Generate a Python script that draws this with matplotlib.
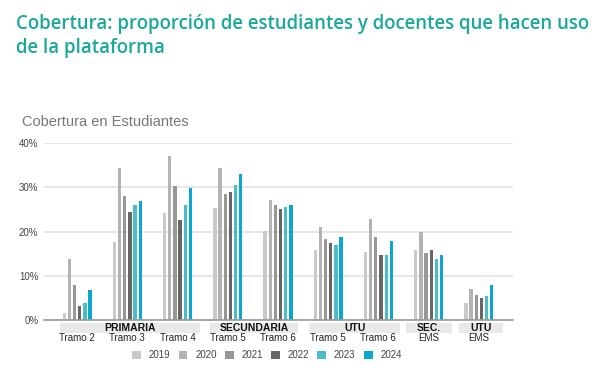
import matplotlib.pyplot as plt
from matplotlib.patches import Rectangle
import numpy as np

plt.rcParams['font.family'] = ['Liberation Sans', 'DejaVu Sans']

# data (% of students)
categories = ['Tramo 2', 'Tramo 3', 'Tramo 4', 'Tramo 5', 'Tramo 6',
              'Tramo 5', 'Tramo 6', 'EMS', 'EMS']
years = ['2019', '2020', '2021', '2022', '2023', '2024']
v2019 = [1.5, 17.7, 24.1, 25.4, 20.2, 15.8, 15.3, 15.8, 3.8]
v2020 = [13.7, 34.3, 37.1, 34.4, 27.2, 21.0, 22.8, 19.9, 6.9]
v2021 = [7.8, 28.1, 30.3, 28.5, 25.9, 18.3, 18.8, 15.2, 5.7]
v2022 = [3.1, 24.5, 22.6, 28.9, 25.1, 17.5, 14.6, 15.8, 5.0]
v2023 = [3.8, 26.0, 26.0, 30.6, 25.5, 17.0, 14.8, 13.8, 5.5]
v2024 = [6.8, 26.9, 29.9, 33.0, 26.0, 18.8, 17.8, 14.8, 7.8]
groups = ['PRIMARIA', 'SECUNDARIA', 'UTU', 'SEC.', 'UTU']
group_spans = [(-0.35, 2.45), (2.65, 4.40), (4.62, 6.43), (6.55, 7.46), (7.60, 8.48)]
ticks = [0, 10, 20, 30, 40]

colors = ['#c9c9c9', '#b3b3b3', '#979797', '#666666', '#4cbdc6', '#0aa8d0']
series = [v2019, v2020, v2021, v2022, v2023, v2024]

fig = plt.figure(figsize=(6.15, 3.77), dpi=100)
ax = fig.add_axes([44 / 615, 1 - 320 / 377, (513 - 44) / 615, (320 - 143) / 377])

x = np.arange(len(categories))
step = 0.103
width = 0.066
for i, (vals, c) in enumerate(zip(series, colors)):
    ax.bar(x + (i - 2.5) * step, vals, width=width, color=c, label=years[i], zorder=3)

ax.set_xlim(-0.66, 8.68)
ax.set_ylim(0, 40)
ax.set_yticks(ticks)
ax.set_yticklabels([f'{t}%' for t in ticks], fontsize=7, color='#444444')
ax.tick_params(axis='y', length=0, pad=4)
ax.set_xticks([])
ax.grid(axis='y', color='#e3e3e3', linewidth=1.2, zorder=0)
for s in ['top', 'right', 'left']:
    ax.spines[s].set_visible(False)
ax.spines['bottom'].set_color('#999999')
ax.spines['bottom'].set_linewidth(1.2)
ax.spines['bottom'].set_zorder(4)

# group bands and labels below the axis
trans = ax.get_xaxis_transform()
band_top = -0.015
band_h = 0.056
for name, (a, b) in zip(groups, group_spans):
    ax.add_patch(Rectangle((a, band_top - band_h), b - a, band_h, transform=trans,
                           facecolor='#e9e9e9', edgecolor='none', clip_on=False))
    ax.text((a + b) / 2, band_top - band_h / 2, name, transform=trans, ha='center',
            va='center', fontsize=7.5, fontweight='bold', color='#111111')
for xi, cat in zip(x, categories):
    ax.text(xi, -0.1, cat, transform=trans, ha='center', va='center',
            fontsize=7, color='#222222')

ax.legend(loc='center', bbox_to_anchor=(267 / 615, 1 - 355 / 377),
          bbox_transform=fig.transFigure, ncol=6, frameon=False, fontsize=7,
          handlelength=0.9, handleheight=0.9, columnspacing=0.85, handletextpad=0.8,
          labelcolor='#444444')

fig.text(16 / 615, 1 - 14 / 377, 'Cobertura: proporción de estudiantes y docentes que hacen uso\nde la plataforma',
         fontsize=13.4, fontweight='semibold', color='#1aa999', family='Open Sans',
         va='top', ha='left', linespacing=1.3)
fig.text(22 / 615, 1 - 122 / 377, 'Cobertura en Estudiantes', fontsize=10.5,
         color='#777777', va='center', ha='left')

fig.savefig('out.png', dpi=100)
